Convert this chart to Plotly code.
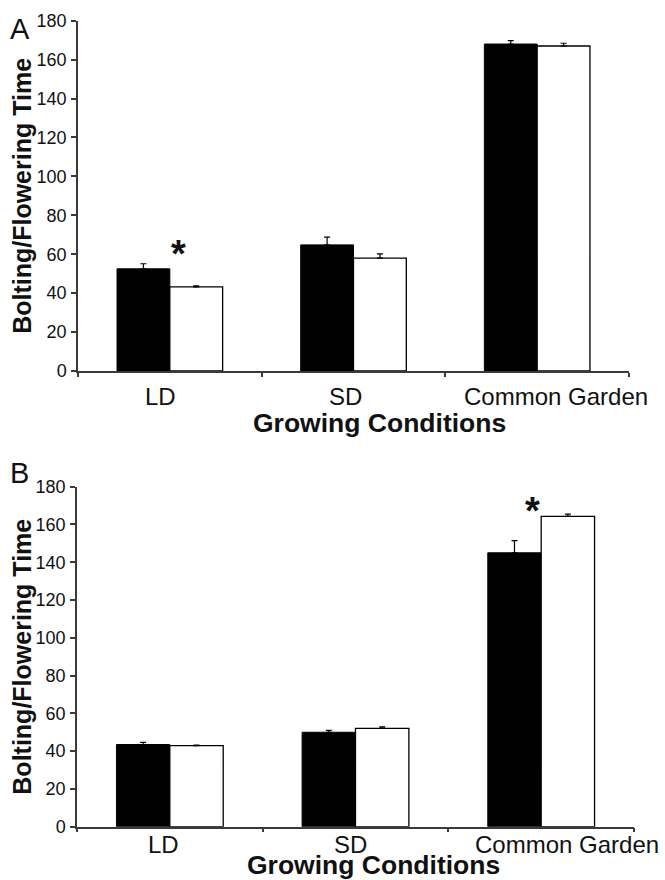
import plotly.graph_objects as go

# ---- data ----
categories = ["LD", "SD", "Common Garden"]

a_black = [52.5, 64.8, 168.0]
a_black_err = [2.6, 4.0, 1.8]
a_white = [43.2, 58.0, 167.0]
a_white_err = [0.5, 2.2, 1.4]

b_black = [43.5, 50.0, 145.0]
b_black_err = [1.1, 1.0, 6.5]
b_white = [42.9, 52.1, 164.3]
b_white_err = [0.3, 0.8, 1.2]

y_ticks = [0, 20, 40, 60, 80, 100, 120, 140, 160, 180]
panel_labels = ["A", "B"]
y_title = "Bolting/Flowering Time"
x_title = "Growing Conditions"
star_category = ["LD", "Common Garden"]

# ---- style ----
W, H = 665, 880
FONT = "Liberation Sans, Arial, sans-serif"
AXC = "#3a3a3a"

def px_x(p):
    return p / W

def px_y(p):
    return 1 - p / H

panels = [
    dict(x0=78, x1=629, y0=20.7, y1=371, label_shift=[-9.5, -8.5, 19], label_y=-11,
         star=(9, 10), xt=(379, 423), pl=(20, 29)),
    dict(x0=77, x1=634, y0=486.7, y1=826.7, label_shift=[-6, -5, 26], label_y=-3,
         star=(-9, 3), xt=(373, 865), pl=(19, 473)),
]

fig = go.Figure()
series = [(a_black, a_black_err, a_white, a_white_err), (b_black, b_black_err, b_white, b_white_err)]

for i, (bk, bke, wh, whe) in enumerate(series):
    xa = "x" if i == 0 else "x2"
    ya = "y" if i == 0 else "y2"
    fig.add_trace(go.Bar(
        x=categories, y=bk, xaxis=xa, yaxis=ya, showlegend=False,
        marker=dict(color="black", line=dict(color="black", width=1)),
        error_y=dict(type="data", symmetric=False, array=bke, arrayminus=[0] * len(bke),
                     color="black", thickness=1.2, width=3),
    ))
    fig.add_trace(go.Bar(
        x=categories, y=wh, xaxis=xa, yaxis=ya, showlegend=False,
        marker=dict(color="white", line=dict(color="black", width=1.3)),
        error_y=dict(type="data", symmetric=False, array=whe, arrayminus=[0] * len(whe),
                     color="black", thickness=1.2, width=3),
    ))

annotations = []
for i, p in enumerate(panels):
    sfx = "" if i == 0 else "2"
    xd = [px_x(p["x0"]), px_x(p["x1"])]
    yd = [px_y(p["y1"]), px_y(p["y0"])]
    fig.update_layout(**{
        f"xaxis{sfx}": dict(
            domain=xd, type="category", range=[-0.5, 2.5], tickson="boundaries",
            ticks="outside", ticklen=4, tickwidth=1.5, tickcolor=AXC,
            showticklabels=False, showline=True, linecolor=AXC, linewidth=1.5,
            showgrid=False, zeroline=False, anchor="y" + sfx, fixedrange=True,
            automargin=False,
        ),
        f"yaxis{sfx}": dict(
            domain=yd, range=[0, 180], tickvals=y_ticks, ticks="outside", ticklen=5,
            tickwidth=1.5, tickcolor=AXC, showline=True, linecolor=AXC, linewidth=1.5,
            showgrid=False, zeroline=False, anchor="x" + sfx, automargin=False,
            tickfont=dict(family=FONT, size=18, color="#111"), ticklabelstandoff=1,
        ),
    })
    xref = "x" + sfx
    yref = "y" + sfx
    # category labels
    for c, sh in zip(categories, p["label_shift"]):
        annotations.append(dict(
            x=c, xref=xref, y=0, yref=yref, text=c, showarrow=False,
            xshift=sh, xanchor="center", yanchor="top", yshift=p["label_y"],
            borderpad=0,
            font=dict(family=FONT, size=24, color="#111"),
        ))
    # axis titles
    annotations.append(dict(
        x=px_x(22), y=px_y((p["y0"] + p["y1"]) / 2), xref="paper", yref="paper",
        xanchor="center", yanchor="middle",
        text="<b>" + y_title + "</b>", textangle=-90, showarrow=False,
        font=dict(family=FONT, size=25, color="#111"),
    ))
    annotations.append(dict(
        x=px_x(p["xt"][0]), y=px_y(p["xt"][1]),
        xref="paper", yref="paper", xanchor="center", yanchor="middle",
        text="<b>" + x_title + "</b>", showarrow=False, borderpad=0,
        font=dict(family=FONT, size=26.5, color="#111"),
    ))
    # panel label
    annotations.append(dict(
        x=px_x(p["pl"][0]), y=px_y(p["pl"][1]), xref="paper", yref="paper",
        xanchor="center", yanchor="middle",
        text=panel_labels[i], showarrow=False,
        font=dict(family=FONT, size=29, color="#111"),
    ))
    # significance star
    bk, bke, wh, whe = series[i]
    k = categories.index(star_category[i])
    top = max(bk[k] + bke[k], wh[k] + whe[k])
    annotations.append(dict(
        x=star_category[i], xref=xref, y=top, yref=yref, text="<b>*</b>",
        showarrow=False, xanchor="center", yanchor="middle",
        xshift=p["star"][0], yshift=p["star"][1],
        font=dict(family=FONT, size=38, color="#111"),
    ))

fig.update_layout(
    width=W, height=H, margin=dict(l=0, r=0, t=0, b=0, autoexpand=False),
    paper_bgcolor="white", plot_bgcolor="white",
    barmode="group", bargap=0.425, bargroupgap=0,
    annotations=annotations,
)

fig.write_html("out.html", config={"displayModeBar": False},
               post_script="document.body.style.margin='0px';")
